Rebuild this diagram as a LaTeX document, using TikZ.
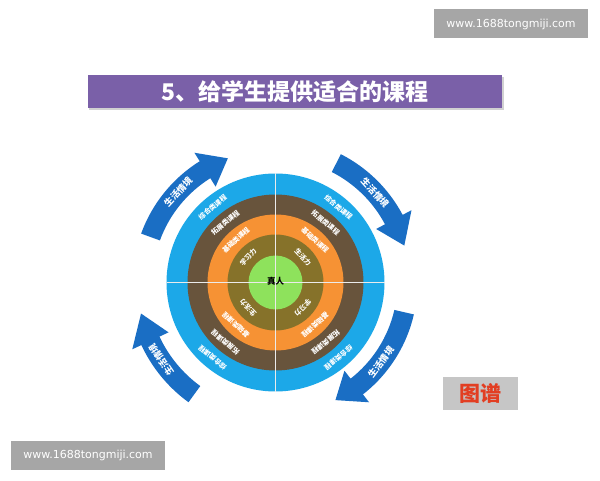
\documentclass[tikz,border=0pt]{standalone}
\usepackage{fontspec}
\newfontfamily\cjk{Noto Sans CJK SC}
\newfontfamily\wmfont{DejaVu Sans}
\definecolor{ringblue}{RGB}{28,168,232}
\definecolor{ringbrown}{RGB}{104,84,60}
\definecolor{ringorange}{RGB}{246,146,52}
\definecolor{ringolive}{RGB}{134,114,42}
\definecolor{ringgreen}{RGB}{142,226,92}
\definecolor{arrowblue}{RGB}{26,110,196}
\definecolor{titlepurple}{RGB}{122,96,168}
\definecolor{wmgray}{RGB}{166,166,166}
\definecolor{taggray}{RGB}{198,198,198}
\definecolor{tagred}{RGB}{226,62,34}
\newcommand{\cbarrow}[4]{%
  \fill[arrowblue] (#1:{#4-10}) arc[start angle=#1, end angle=#2, radius={#4-10}]
    -- (#2:{#4-20}) -- (#3:#4) -- (#2:{#4+20}) -- (#2:{#4+10})
    arc[start angle=#2, end angle=#1, radius={#4+10}] -- cycle;}
\begin{document}
\begin{tikzpicture}[x=1pt,y=1pt,
  wmbox/.style={fill=wmgray, inner sep=0pt, minimum width=154pt, minimum height=29pt, text=white, font=\wmfont\fontsize{11}{12}\selectfont},
  ringlbl/.style={text=white, inner sep=0pt, font=\cjk\bfseries\fontsize{6.8}{7}\selectfont},
  arrlbl/.style={text=white, inner sep=0pt, font=\cjk\bfseries\fontsize{9}{10}\selectfont}]
\useasboundingbox (0,0) rectangle (600,480);
\fill[white] (0,0) rectangle (600,480);
% watermarks
\node[wmbox] (wmtop) at (511,456) {www.1688tongmiji.com};
\node[wmbox] (wmbot) at (88,25) {www.1688tongmiji.com};
% title
\fill[black!18] (89,370) rectangle (504,403);
\node[fill=titlepurple, minimum width=414pt, minimum height=33pt, inner sep=0pt, text=white,
  font=\cjk\bfseries\fontsize{23}{25}\selectfont] (title) at (295,388.5) {5、给学生提供适合的课程};
% tag
\node[fill=taggray, minimum width=75pt, minimum height=33pt, inner sep=0pt, text=tagred,
  font=\cjk\bfseries\fontsize{21}{22}\selectfont] (tag) at (480.5,86.5) {图谱};
% wheel
\begin{scope}[shift={(275.5,197.5)}]
\fill[ringblue] (0,0) circle (109);
\fill[ringbrown] (0,0) circle (88);
\fill[ringorange] (0,0) circle (68);
\fill[ringolive] (0,0) circle (48);
\fill[ringgreen] (0,0) circle (27);
\draw[white!92!black, line width=1.1pt] (-109,0) -- (109,0);
\draw[white!92!black, line width=1.1pt] (0,-109) -- (0,109);
\node[inner sep=0pt, font=\cjk\bfseries\fontsize{8.5}{9}\selectfont] (core) at (0,1.5) {真人};
% upper-left
\node[ringlbl, rotate=47] (ul1) at (137:37.5) {学习力};
\node[ringlbl, rotate=43] (ul2) at (133:58) {基础类课程};
\node[ringlbl, rotate=40] (ul3) at (130:78) {拓展类课程};
\node[ringlbl, rotate=40] (ul4) at (130:98) {综合类课程};
% upper-right
\node[ringlbl, rotate=-47] (ur1) at (43:37.5) {生活力};
\node[ringlbl, rotate=-43] (ur2) at (47:58) {基础类课程};
\node[ringlbl, rotate=-40] (ur3) at (50:78) {拓展类课程};
\node[ringlbl, rotate=-40] (ur4) at (50:98) {综合类课程};
% lower-left (upper-right turned)
\node[ringlbl, rotate=133] (ll1) at (223:37.5) {生活力};
\node[ringlbl, rotate=137] (ll2) at (227:58) {基础类课程};
\node[ringlbl, rotate=140] (ll3) at (230:78) {拓展类课程};
\node[ringlbl, rotate=140] (ll4) at (230:98) {综合类课程};
% lower-right (upper-left turned)
\node[ringlbl, rotate=227] (lr1) at (317:37.5) {学习力};
\node[ringlbl, rotate=223] (lr2) at (313:58) {基础类课程};
\node[ringlbl, rotate=220] (lr3) at (310:78) {拓展类课程};
\node[ringlbl, rotate=220] (lr4) at (310:98) {综合类课程};
% arrows
\cbarrow{160}{122}{111}{133}
\cbarrow{63}{28}{16}{134}
\cbarrow{-13}{-52}{-63}{132}
\cbarrow{234}{205}{193}{138}
\node[arrlbl, rotate=47] (aul) at (137:133) {生活情境};
\node[arrlbl, rotate=-48] (aur) at (42:134) {生活情境};
\node[arrlbl, rotate=53] (alr) at (-37:132) {生活情境};
\node[arrlbl, rotate=124] (all) at (214:138) {生活情境};
\end{scope}
\end{tikzpicture}
\end{document}
